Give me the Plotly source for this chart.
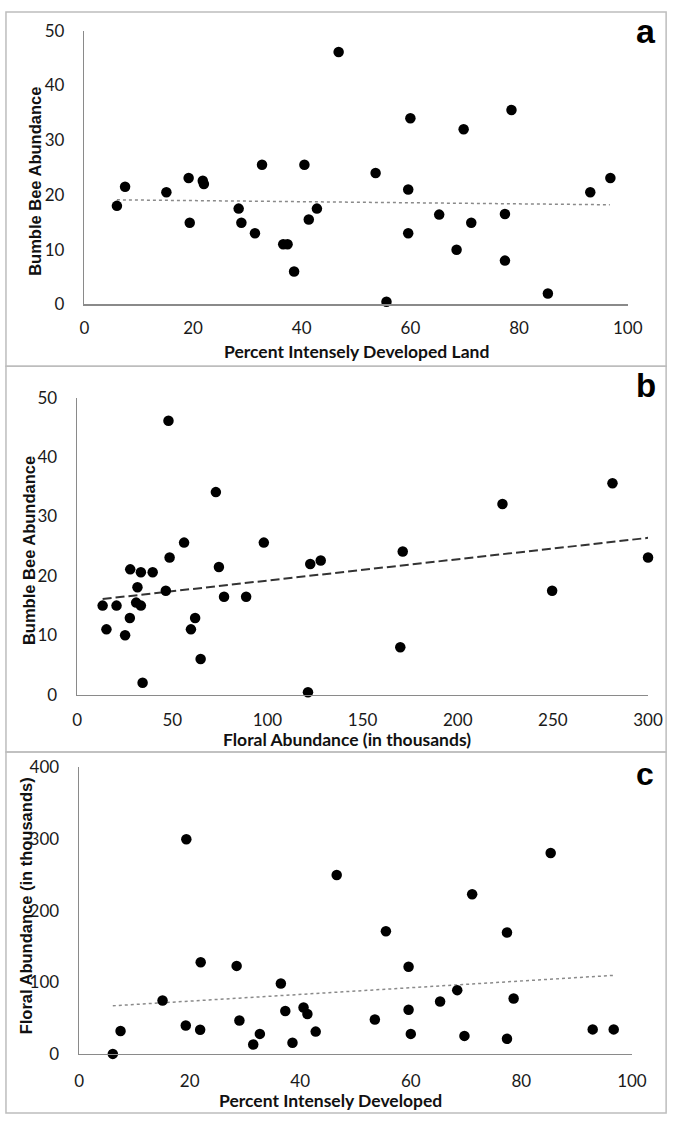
import plotly.graph_objects as go

W, H = 685, 1126

# ---- data: panel a (Percent developed vs bumble bee abundance) ----
a_pct = [6.0, 7.5, 15.1, 19.2, 19.4, 21.8, 22.0, 28.4, 28.9, 31.4, 32.7, 36.6, 37.4, 38.6,
         40.5, 41.3, 42.8, 46.8, 53.6, 55.6, 59.6, 59.6, 60.0, 65.3, 68.5, 69.8, 71.2,
         77.4, 77.4, 78.6, 85.3, 93.1, 96.8]
a_bee = [18.0, 21.5, 20.5, 23.1, 14.9, 22.6, 22.0, 17.5, 14.9, 13.0, 25.5, 11.0, 11.0, 6.0,
         25.5, 15.5, 17.5, 46.1, 24.0, 0.5, 21.0, 13.0, 34.0, 16.4, 10.0, 32.0, 14.9,
         16.5, 8.0, 35.5, 2.0, 20.5, 23.1]
a_trend_x = [6.0, 96.7]
a_trend_y = [19.1, 18.2]

# ---- data: panel b (Floral abundance vs bumble bee abundance) ----
b_floral = [13.4, 15.4, 20.7, 25.2, 27.7, 27.9, 31.0, 31.7, 33.5, 33.5, 34.4, 39.7, 46.6,
            48.0, 48.6, 56.2, 59.8, 62.0, 64.9, 72.9, 74.5, 77.2, 88.8, 98.1, 121.3, 122.5,
            128.0, 169.8, 171.1, 223.5, 249.6, 281.3, 300.0]
b_bee = [15.0, 11.0, 15.0, 10.0, 12.9, 21.1, 15.5, 18.1, 15.0, 20.6, 2.0, 20.6, 17.5,
         46.1, 23.1, 25.6, 11.0, 12.9, 6.0, 34.1, 21.5, 16.5, 16.5, 25.6, 0.4, 22.0,
         22.6, 8.0, 24.1, 32.1, 17.5, 35.6, 23.1]
b_trend_x = [13.4, 300.0]
b_trend_y = [16.1, 26.4]

# ---- data: panel c (Percent developed vs floral abundance) ----
c_pct = [6.1, 7.5, 15.1, 19.4, 19.3, 22.0, 21.9, 28.5, 29.0, 31.5, 32.7, 36.5, 37.3, 38.6,
         40.6, 41.3, 42.8, 46.6, 53.5, 55.5, 59.6, 59.6, 60.0, 65.3, 68.4, 69.7, 71.1,
         77.4, 77.4, 78.6, 85.3, 92.9, 96.7]
c_floral = [0.0, 32.0, 74.4, 299.5, 39.7, 127.9, 33.8, 122.8, 46.6, 13.2, 27.9, 98.2, 59.8,
            15.5, 64.8, 55.7, 31.1, 249.8, 47.9, 171.2, 121.5, 61.6, 27.9, 73.1, 89.0, 25.1,
            222.8, 169.4, 21.0, 77.2, 280.4, 34.2, 34.2]
c_trend_x = [6.1, 96.7]
c_trend_y = [67.1, 109.6]

pct_ticks = [0, 20, 40, 60, 80, 100]
bee_ticks = [0, 10, 20, 30, 40, 50]
floral_ticks_x = [0, 50, 100, 150, 200, 250, 300]
floral_ticks_y = [0, 100, 200, 300, 400]


def px(x):
    return x / W


def py(y):
    return 1 - y / H


TICK_FONT = dict(family="Lato, Roboto, sans-serif", size=17, color="#1a1a1a")
XT_FONT = dict(family="Lato, Roboto, sans-serif", size=17.5, color="#111")
YT_FONT = dict(family="Liberation Sans, Arial, sans-serif", size=16.5, color="#111")
AXIS_COLOR = "#8a8a8a"

fig = go.Figure()

mk = dict(color="black", size=10.5)
fig.add_trace(go.Scatter(x=a_trend_x, y=a_trend_y, mode="lines",
                         line=dict(color="#8a8a8a", width=1.5, dash="dot"),
                         xaxis="x", yaxis="y", showlegend=False))
fig.add_trace(go.Scatter(x=a_pct, y=a_bee, mode="markers", marker=mk,
                         xaxis="x", yaxis="y", showlegend=False, cliponaxis=False))
fig.add_trace(go.Scatter(x=b_trend_x, y=b_trend_y, mode="lines",
                         line=dict(color="#333", width=2, dash="9px,4px"),
                         xaxis="x2", yaxis="y2", showlegend=False))
fig.add_trace(go.Scatter(x=b_floral, y=b_bee, mode="markers", marker=mk,
                         xaxis="x2", yaxis="y2", showlegend=False, cliponaxis=False))
fig.add_trace(go.Scatter(x=c_trend_x, y=c_trend_y, mode="lines",
                         line=dict(color="#8a8a8a", width=1.5, dash="dot"),
                         xaxis="x3", yaxis="y3", showlegend=False))
fig.add_trace(go.Scatter(x=c_pct, y=c_floral, mode="markers", marker=mk,
                         xaxis="x3", yaxis="y3", showlegend=False, cliponaxis=False))


def xax(domain, rng, ticks, anchor, standoff=11):
    return dict(domain=domain, range=rng, tickvals=ticks, showline=True, linecolor=AXIS_COLOR,
                linewidth=1.5, showgrid=False, zeroline=False, ticks="", tickfont=TICK_FONT,
                ticklabelstandoff=standoff, anchor=anchor, fixedrange=True)


def yax(domain, rng, ticks, anchor):
    return dict(domain=domain, range=rng, tickvals=ticks, showline=True, linecolor=AXIS_COLOR,
                linewidth=1.5, showgrid=False, zeroline=False, ticks="", tickfont=TICK_FONT,
                ticklabelstandoff=15, anchor=anchor, fixedrange=True)


# pixel geometry of each plot area
A = dict(x0=81.7, x1=641.5, y0=299.0, y1=20.0)
B = dict(x0=74.3, x1=662.4, y0=696.7, y1=394.0)
C = dict(x0=76.3, x1=645.8, y0=1062.7, y1=770.7)

fig.update_layout(
    width=W, height=H, margin=dict(l=0, r=0, t=0, b=0),
    paper_bgcolor="white", plot_bgcolor="white",
    xaxis=xax([px(A["x0"]), px(A["x1"])], [0, 100], pct_ticks, "y", 8),
    yaxis=yax([py(A["y0"]), py(A["y1"])], [0, 50], bee_ticks, "x"),
    xaxis2=xax([px(B["x0"]), px(B["x1"])], [0, 300], floral_ticks_x, "y2", 9),
    yaxis2=yax([py(B["y0"]), py(B["y1"])], [0, 50], bee_ticks, "x2"),
    xaxis3=xax([px(C["x0"]), px(C["x1"])], [0, 100], pct_ticks, "y3", 11),
    yaxis3=yax([py(C["y0"]), py(C["y1"])], [0, 400], floral_ticks_y, "x3"),
)

# panel borders
border = dict(color="#bdbdbd", width=1.5)
for (y0, y1) in [(1, 362), (362, 755), (755, 1123)]:
    fig.add_shape(type="rect", xref="paper", yref="paper",
                  x0=px(1), x1=px(681), y0=py(y1), y1=py(y0), line=border, layer="below")

anns = [
    # x titles
    dict(text="<b>Percent Intensely Developed Land</b>", x=362, y=347, font=XT_FONT),
    dict(text="<b>Floral Abundance (in thousands)</b>", x=352, y=742, font=XT_FONT),
    dict(text="<b>Percent Intensely Developed</b>", x=335, y=1110, font=XT_FONT),
    # y titles
    dict(text="<b>Bumble Bee Abundance</b>", x=31, y=174, font=YT_FONT, textangle=-90),
    dict(text="<b>Bumble Bee Abundance</b>", x=24, y=550, font=YT_FONT, textangle=-90),
    dict(text="<b>Floral Abundance (in thousands)</b>", x=22, y=912, font=YT_FONT, textangle=-90),
    # panel letters
    dict(text="<b>a</b>", x=660, y=20, font=dict(family="Liberation Sans, Arial", size=34, color="black")),
    dict(text="<b>b</b>", x=660, y=382, font=dict(family="Liberation Sans, Arial", size=33, color="black")),
    dict(text="<b>c</b>", x=659, y=778, font=dict(family="Liberation Sans, Arial", size=32, color="black")),
]
for a in anns:
    a = dict(a)
    a["x"] = px(a["x"])
    a["y"] = py(a["y"])
    fig.add_annotation(xref="paper", yref="paper", showarrow=False,
                       xanchor="center", yanchor="middle", **a)

fig.write_html(
    "out.html",
    config={"displayModeBar": False, "staticPlot": True},
    post_script="document.body.style.margin='0';document.body.style.overflow='hidden';",
)
